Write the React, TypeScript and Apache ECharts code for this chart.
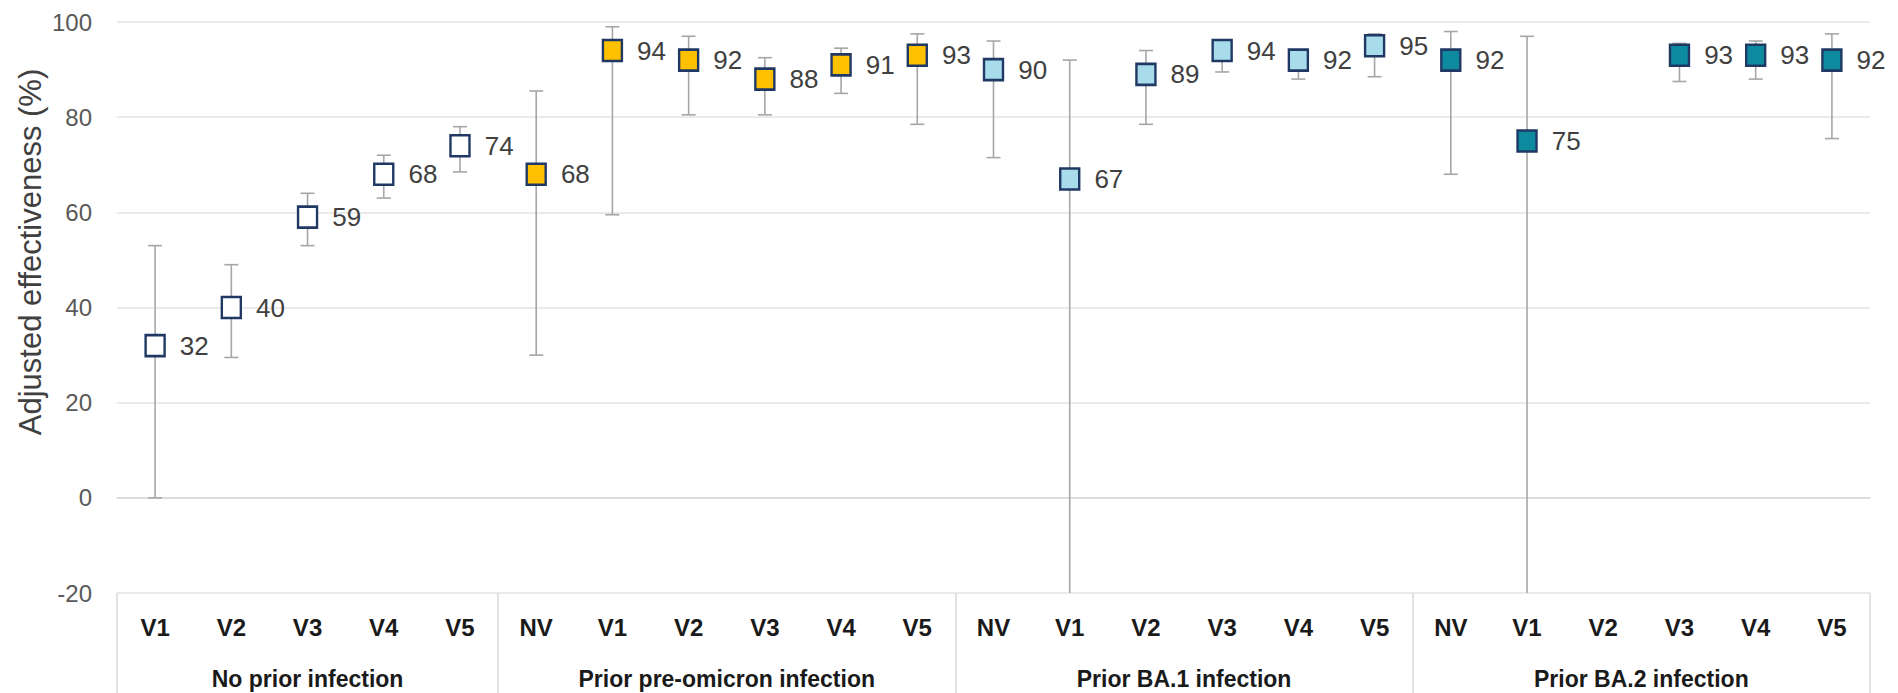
import React, { useEffect, useRef } from "react";
import * as echarts from "echarts";

const categories = [
  "V1", "V2", "V3", "V4", "V5",
  "NV", "V1", "V2", "V3", "V4", "V5",
  "NV", "V1", "V2", "V3", "V4", "V5",
  "NV", "V1", "V2", "V3", "V4", "V5",
];
const groupNames = [
  "No prior infection",
  "Prior pre-omicron infection",
  "Prior BA.1 infection",
  "Prior BA.2 infection",
];
const groupSizes = [5, 6, 6, 6];

const noPriorValues = [32, 40, 59, 68, 74];
const noPriorLower = [0, 29.5, 53, 63, 68.5];
const noPriorUpper = [53, 49, 64, 72, 78];

const preOmicronValues = [68, 94, 92, 88, 91, 93];
const preOmicronLower = [30, 59.5, 80.5, 80.5, 85, 78.5];
const preOmicronUpper = [85.5, 99, 97, 92.5, 94.5, 97.5];

const ba1Values = [90, 67, 89, 94, 92, 95];
const ba1Lower = [71.5, -40, 78.5, 89.5, 88, 88.5];
const ba1Upper = [96, 92, 94, 95.5, 93.5, 97.5];

const ba2Values = [92, 75, null, 93, 93, 92];
const ba2Lower = [68, -40, null, 87.5, 88, 75.5];
const ba2Upper = [98, 97, null, 95.5, 96, 97.5];

const yTicks = [-20, 0, 20, 40, 60, 80, 100];

const groupValues = [noPriorValues, preOmicronValues, ba1Values, ba2Values];
const groupLower = [noPriorLower, preOmicronLower, ba1Lower, ba2Lower];
const groupUpper = [noPriorUpper, preOmicronUpper, ba1Upper, ba2Upper];
const groupFills = ["#FFFFFF", "#FFC000", "#A9DCEB", "#0E8A9E"];

const FONT = "'Liberation Sans', Arial, sans-serif";

export default function App() {
  const ref = useRef<HTMLDivElement>(null);

  useEffect(() => {
    document.body.style.margin = "0";
    if (!ref.current) return;
    const chart = echarts.init(ref.current, null, { renderer: "svg" });

    const offsets: number[] = [];
    let acc = 0;
    groupSizes.forEach((s) => {
      offsets.push(acc);
      acc += s;
    });
    const boundaries = [...offsets, acc];
    const groupCenters = groupSizes.map((s, i) => offsets[i] + s / 2);

    const errData: any[] = [];
    const scatterSeries: any[] = [];
    groupValues.forEach((vals, g) => {
      const data: any[] = [];
      vals.forEach((v, i) => {
        if (v === null) return;
        const idx = offsets[g] + i;
        data.push([idx, v]);
        errData.push([idx, groupLower[g][i], groupUpper[g][i]]);
      });
      scatterSeries.push({
        type: "scatter",
        name: groupNames[g],
        xAxisIndex: 0,
        yAxisIndex: 0,
        data,
        symbol: "rect",
        symbolSize: [19, 21],
        z: 5,
        itemStyle: {
          color: groupFills[g],
          borderColor: "#1F3864",
          borderWidth: 2.5,
          opacity: 1,
        },
        label: {
          show: true,
          position: "right",
          distance: 14,
          fontSize: 26,
          fontFamily: FONT,
          color: "#404040",
          formatter: (p: any) => String(p.value[1]),
        },
      });
    });

    const option: any = {
      animation: false,
      grid: { left: 117, right: 28, top: 22, bottom: 100 },
      xAxis: [
        {
          type: "category",
          data: categories,
          boundaryGap: true,
          axisLine: { show: true, lineStyle: { color: "#D9D9D9", width: 1.5 } },
          axisTick: { show: false },
          axisLabel: {
            interval: 0,
            margin: 22,
            fontSize: 24,
            fontWeight: "bold",
            fontFamily: FONT,
            color: "#1A1A1A",
          },
          splitLine: { show: false },
        },
        {
          type: "value",
          min: 0,
          max: categories.length,
          position: "bottom",
          axisLine: { show: false },
          splitLine: { show: false },
          axisTick: {
            show: true,
            customValues: boundaries,
            length: 100,
            lineStyle: { color: "#D9D9D9", width: 1.5 },
          },
          axisLabel: {
            show: true,
            customValues: groupCenters,
            margin: 74,
            fontSize: 23,
            fontWeight: "bold",
            fontFamily: FONT,
            color: "#1A1A1A",
            formatter: (v: number) => {
              const i = groupCenters.indexOf(v);
              return i >= 0 ? groupNames[i] : "";
            },
          },
        },
      ],
      yAxis: {
        type: "value",
        min: yTicks[0],
        max: yTicks[yTicks.length - 1],
        interval: 20,
        axisLine: { show: false },
        axisTick: { show: false },
        axisLabel: {
          margin: 25,
          fontSize: 24,
          fontFamily: FONT,
          color: "#595959",
        },
        splitLine: { show: true, lineStyle: { color: "#E3E3E3", width: 1.5 } },
      },
      graphic: [
        {
          type: "text",
          x: 30,
          y: 252,
          rotation: Math.PI / 2,
          style: {
            text: "Adjusted effectiveness (%)",
            fontSize: 31,
            fontFamily: FONT,
            fill: "#404040",
            align: "center",
            verticalAlign: "middle",
          },
        },
      ],
      series: [
        {
          type: "custom",
          xAxisIndex: 0,
          yAxisIndex: 0,
          z: 3,
          data: errData,
          encode: { x: 0, y: [1, 2] },
          renderItem: (params: any, api: any) => {
            const x = api.value(0);
            const lo = api.value(1);
            const hi = api.value(2);
            const pHi = api.coord([x, hi]);
            const pLo = api.coord([x, lo]);
            const cs = params.coordSys;
            const bottom = cs.y + cs.height;
            const yLo = Math.min(pLo[1], bottom);
            const style = { stroke: "#A6A6A6", lineWidth: 1.6 };
            const children: any[] = [
              { type: "line", shape: { x1: pHi[0], y1: pHi[1], x2: pHi[0], y2: yLo }, style },
              { type: "line", shape: { x1: pHi[0] - 7, y1: pHi[1], x2: pHi[0] + 7, y2: pHi[1] }, style },
            ];
            if (pLo[1] <= bottom) {
              children.push({
                type: "line",
                shape: { x1: pLo[0] - 7, y1: pLo[1], x2: pLo[0] + 7, y2: pLo[1] },
                style,
              });
            }
            return { type: "group", children };
          },
        },
        ...scatterSeries,
      ],
    };

    chart.setOption(option);
    return () => chart.dispose();
  }, []);

  return <div ref={ref} style={{ width: 1898, height: 693 }} />;
}
